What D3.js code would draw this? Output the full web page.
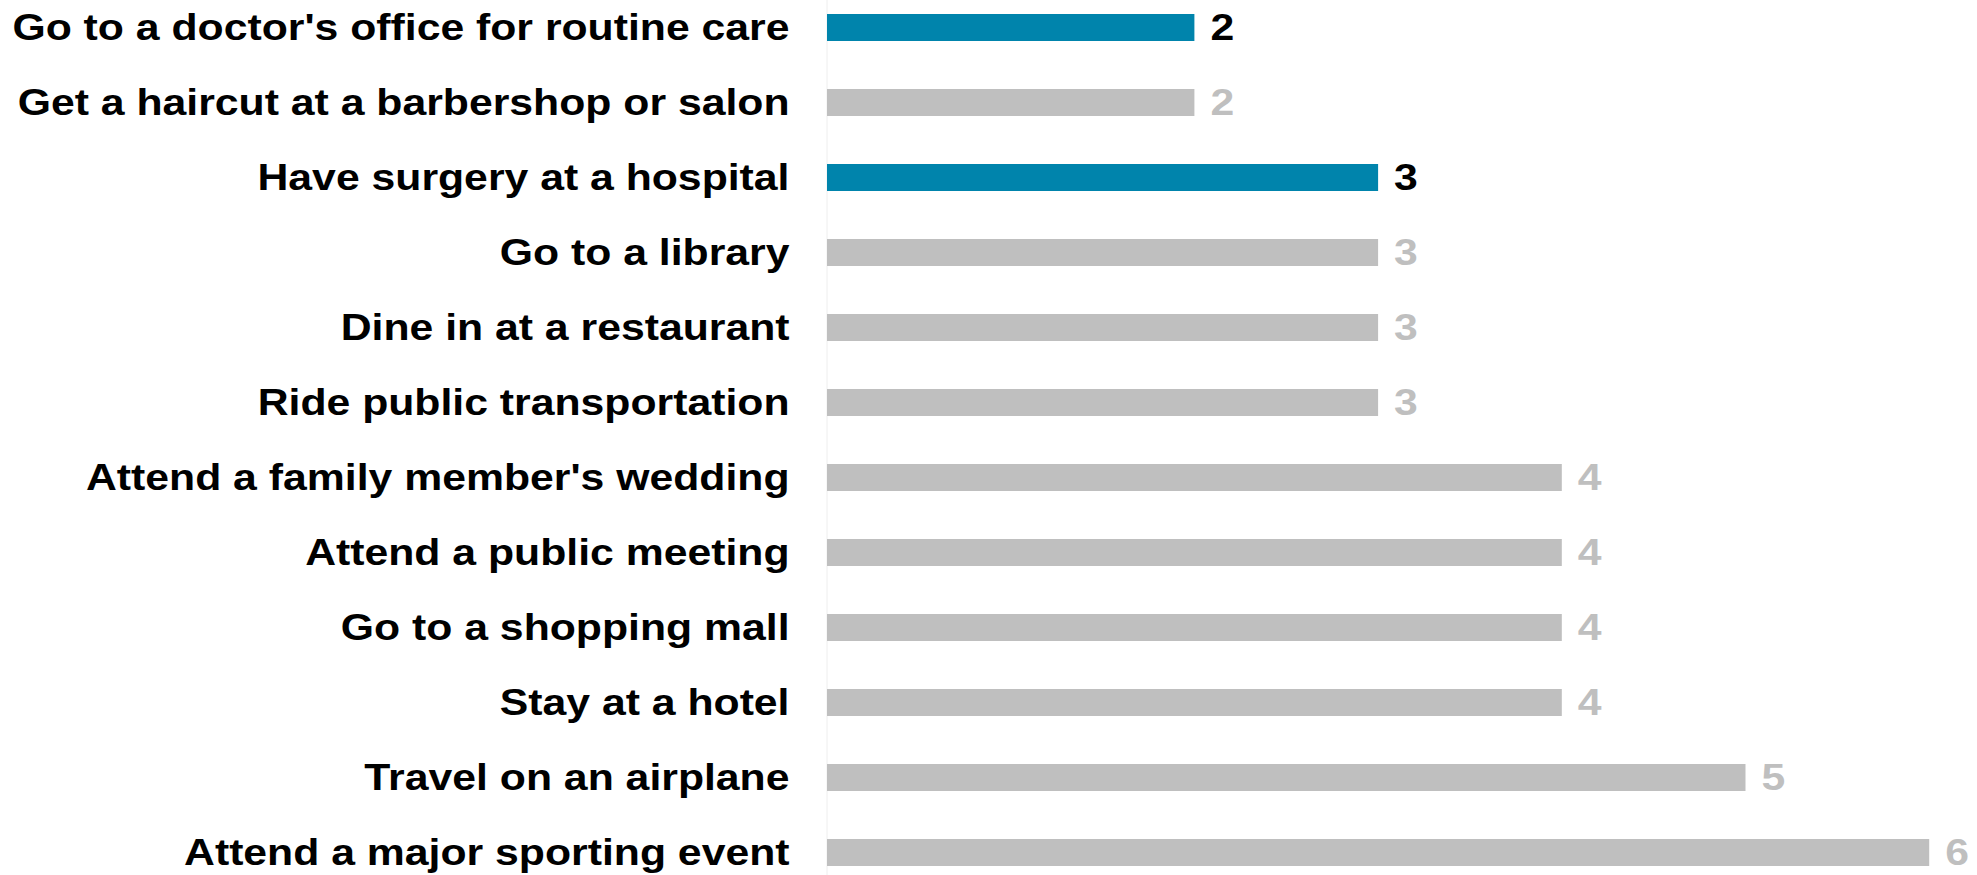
<!DOCTYPE html>
<html>
<head>
<meta charset="utf-8">
<script src="https://cdn.jsdelivr.net/npm/d3@7"></script>
<style>
  html, body { margin: 0; padding: 0; background: #fff; }
  svg { display: block; font-family: "Liberation Sans", Arial, sans-serif; }
</style>
</head>
<body>
<svg id="chart"></svg>
<script>
'use strict';

// activities, top to bottom
var categories = [
  "Go to a doctor's office for routine care",
  "Get a haircut at a barbershop or salon",
  "Have surgery at a hospital",
  "Go to a library",
  "Dine in at a restaurant",
  "Ride public transportation",
  "Attend a family member's wedding",
  "Attend a public meeting",
  "Go to a shopping mall",
  "Stay at a hotel",
  "Travel on an airplane",
  "Attend a major sporting event"
];
var values = [2, 2, 3, 3, 3, 3, 4, 4, 4, 4, 5, 6];
var highlighted = [true, false, true, false, false, false, false, false, false, false, false, false];

var width = 1977, height = 875;
var axisX = 826.5;
var barStart = 827;
var unit = 183.7;
var stretch = 1.155; // the reference type is drawn a bit wide

var svg = d3.select('#chart').attr('width', width).attr('height', height);

var x = d3.scaleLinear().domain([0, 1]).range([barStart, barStart + unit]);
var y = d3.scaleBand()
  .domain(categories)
  .range([-10, 890])
  .paddingInner(0.64)
  .paddingOuter(0.32);

// category axis (labels + thin baseline)
var axis = svg.append('g')
  .attr('class', 'yaxis')
  .attr('transform', 'translate(' + axisX + ',0)')
  .call(d3.axisLeft(y).tickSizeInner(0).tickSizeOuter(0));

axis.select('.domain').attr('stroke', '#eeeeee').attr('stroke-width', 1);
axis.selectAll('.tick text')
  .attr('x', 0)
  .attr('transform', 'translate(-37,0) scale(' + stretch + ',1)')
  .attr('fill', '#000')
  .attr('font-size', '37px')
  .attr('font-weight', 'bold')
  .attr('font-family', '"Liberation Sans", Arial, sans-serif')
  .attr('dy', '0.35em');

// bars
svg.selectAll('.bar')
  .data(values)
  .enter().append('rect')
    .attr('class', 'bar')
    .attr('x', x(0))
    .attr('y', function(d, i) { return y(categories[i]); })
    .attr('width', function(d) { return x(d) - x(0); })
    .attr('height', y.bandwidth())
    .attr('fill', function(d, i) { return highlighted[i] ? '#0084ac' : '#bfbfbf'; });

// value labels
svg.selectAll('.value')
  .data(values)
  .enter().append('text')
    .attr('class', 'value')
    .attr('transform', function(d, i) {
      var ty = y(categories[i]) + y.bandwidth() / 2;
      return 'translate(' + (x(d) + 16) + ',' + ty + ') scale(' + stretch + ',1)';
    })
    .attr('dy', '0.35em')
    .attr('font-size', '37px')
    .attr('font-weight', 'bold')
    .attr('fill', function(d, i) { return highlighted[i] ? '#000' : '#bfbfbf'; })
    .text(function(d) { return d; });
</script>
</body>
</html>
